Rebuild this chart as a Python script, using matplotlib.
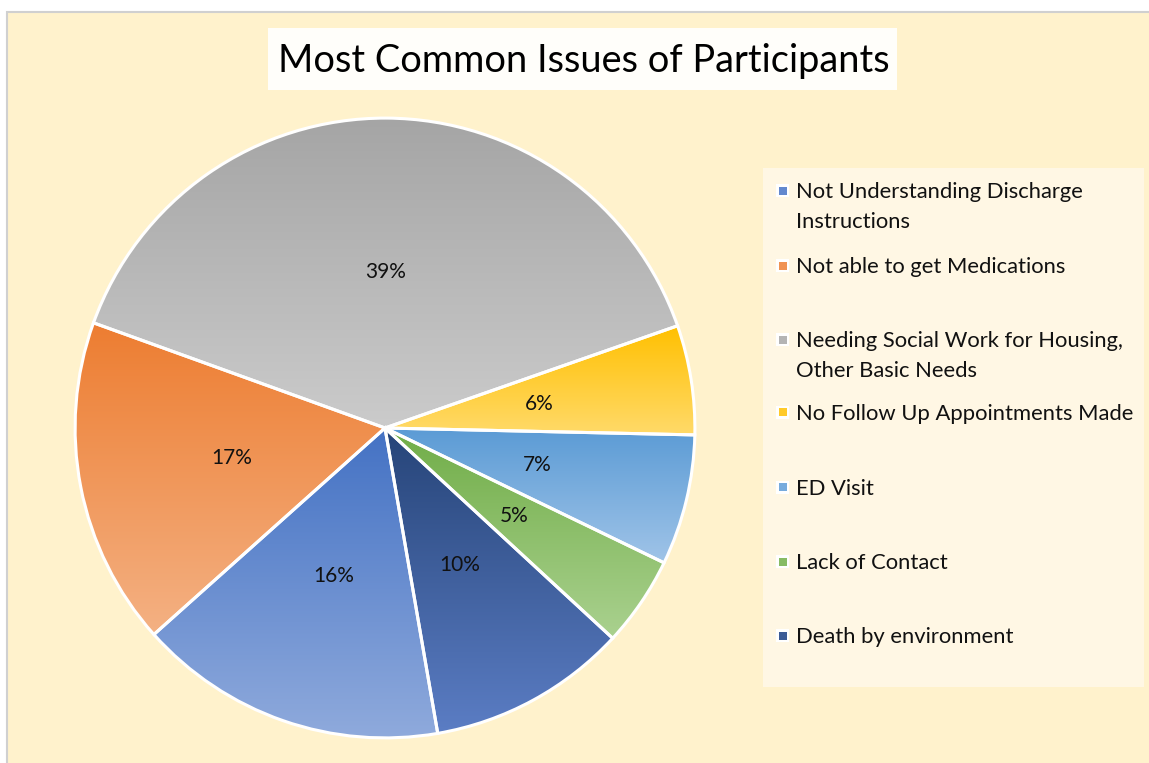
import matplotlib
matplotlib.use("Agg")
import matplotlib.pyplot as plt
import numpy as np
from matplotlib.patches import Rectangle
from matplotlib.colors import LinearSegmentedColormap

plt.rcParams['font.family'] = ['Lato', 'DejaVu Sans']

# ---- data ----
categories = [
    "Not Understanding Discharge\nInstructions",
    "Not able to get Medications",
    "Needing Social Work for Housing,\nOther Basic Needs",
    "No Follow Up Appointments Made",
    "ED Visit",
    "Lack of Contact",
    "Death by environment",
]
values = [16.1, 17.1, 39.1, 5.7, 6.8, 4.7, 10.4]
top_colors = ["#4472C4", "#ED7D31", "#A5A5A5", "#FFC000", "#5B9BD5", "#70AD47", "#264478"]
bottom_colors = ["#8FAADC", "#F4B183", "#CBCBCB", "#FFDA6A", "#A0C4E8", "#AAD18F", "#5B7DC4"]
title = "Most Common Issues of Participants"

W, H = 1149, 763
fig = plt.figure(figsize=(W / 100, H / 100), dpi=100)
fig.patch.set_facecolor("white")

def fx(px):
    return px / W

def fy(py):
    return 1 - py / H

# chart area background + border
bg = Rectangle((fx(7), fy(H + 5)), fx(W + 10 - 7), (H + 5 - 12) / H,
               transform=fig.transFigure, facecolor="#FFF2CC",
               edgecolor="#D0D0D0", linewidth=1.5, zorder=-10)
fig.patches.append(bg)

# pie axes
cx, cy, r = 385, 428, 313
ax = fig.add_axes([fx(cx - r), fy(cy + r), 2 * r / W, 2 * r / H])
ax.set_zorder(5)
ax.patch.set_alpha(0)

wedges, texts, autotexts = ax.pie(
    values, startangle=-80.2, counterclock=False, radius=1,
    autopct=lambda p: f"{p:.0f}%", pctdistance=0.505,
    wedgeprops=dict(edgecolor="white", linewidth=2.2),
    textprops=dict(fontsize=15, color="#111111"),
)

for w, c0, c1 in zip(wedges, top_colors, bottom_colors):
    ext = w.get_path().get_extents()
    cmap = LinearSegmentedColormap.from_list("g", [c0, c1])
    grad = np.linspace(0, 1, 256).reshape(-1, 1)
    im = ax.imshow(grad, cmap=cmap, aspect="auto",
                   extent=[ext.x0, ext.x1, ext.y0, ext.y1], origin="upper",
                   zorder=1, interpolation="bilinear")
    im.set_clip_path(w)
    w.set_facecolor("none")
    w.set_zorder(2)
for t in autotexts:
    t.set_zorder(3)
ax.set_xlim(-1.01, 1.01)
ax.set_ylim(-1.01, 1.01)
ax.set_aspect("equal")
ax.axis("off")

# title box
fig.patches.append(Rectangle((fx(268), fy(90)), fx(897 - 268), (90 - 28) / H,
                             transform=fig.transFigure, facecolor="#FFFEFA",
                             edgecolor="none", zorder=1))
fig.text(fx(584), fy(61), title, ha="center", va="center", fontsize=27.4, color="black")

# legend box
fig.patches.append(Rectangle((fx(763), fy(687)), fx(1144 - 763), (687 - 168) / H,
                             transform=fig.transFigure, facecolor="#FFF7E4",
                             edgecolor="none", zorder=1))
entry_y = [191, 266, 340, 413, 488, 562, 636]
for yy, lab, c0, c1 in zip(entry_y, categories, top_colors, bottom_colors):
    fig.patches.append(Rectangle((fx(776), fy(yy + 6)), 13 / W, 13 / H,
                                 transform=fig.transFigure, facecolor="white",
                                 edgecolor="none", zorder=2))
    mcmap = LinearSegmentedColormap.from_list("m", [c0, c1])
    fig.patches.append(Rectangle((fx(778.5), fy(yy + 3.5)), 8 / W, 8 / H,
                                 transform=fig.transFigure, facecolor=mcmap(0.4),
                                 edgecolor="none", zorder=3))
    fig.text(fx(796), fy(yy - 9), lab, ha="left", va="top", fontsize=15.8,
             color="#111111", linespacing=1.62)

fig.savefig("out.png", dpi=100, facecolor=fig.get_facecolor())
